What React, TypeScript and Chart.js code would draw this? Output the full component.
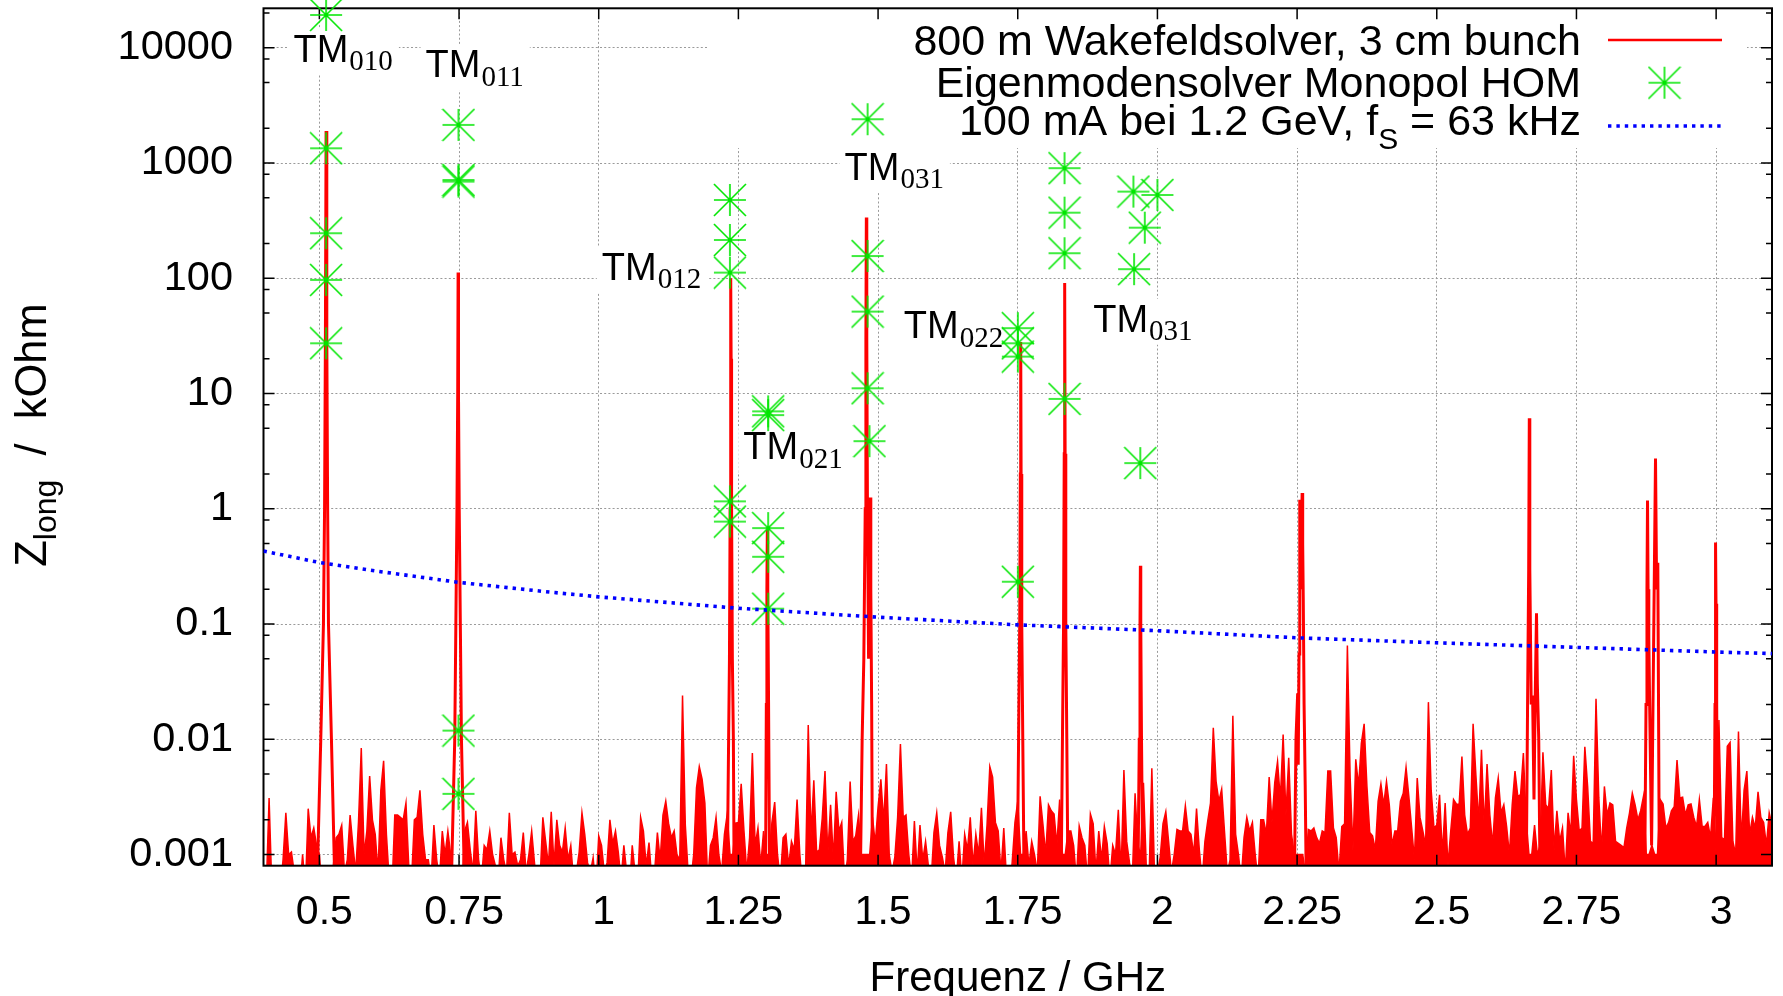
import React, { useEffect, useRef } from 'react';
import { Chart, registerables } from 'chart.js';

Chart.register(...registerables);

const SANS = '"Liberation Sans", Arial, Helvetica, sans-serif';
const SERIF = '"Liberation Serif", "Times New Roman", serif';

// ---------- axes ----------
const X_MIN = 0.4;
const X_MAX = 3.1;
const Y_MIN = 0.0008;
const Y_MAX = 22000;
const X_TICKS = [0.5, 0.75, 1, 1.25, 1.5, 1.75, 2, 2.25, 2.5, 2.75, 3];
const X_TICK_LABELS = ['0.5', '0.75', '1', '1.25', '1.5', '1.75', '2', '2.25', '2.5', '2.75', '3'];
const Y_TICKS = [0.001, 0.01, 0.1, 1, 10, 100, 1000, 10000];
const Y_TICK_LABELS = ['0.001', '0.01', '0.1', '1', '10', '100', '1000', '10000'];
const Y_DECADES = [0.0001, 0.001, 0.01, 0.1, 1, 10, 100, 1000, 10000];
const Y_MINOR_FACTORS = [2, 5, 8];

// ---------- wakefield solver spectrum: noise floor ----------
// sampled every 5 MHz starting at 0.4 GHz, values in Ohm (0.5 = below the axis)
const NOISE_F0_GHZ = 0.4;
const NOISE_STEP_GHZ = 0.005;
const NOISE_OHM = [
  // 0.400 - 0.845
  0.5, 0.5, 3.1, 0.5, 0.5, 0.5, 0.5, 0.9, 2.3, 1.0,
  1.05, 0.7, 0.5, 0.5, 1.0, 0.5, 2.5, 1.4, 1.7, 1.2,
  1.0, 0.5, 0.5, 0.5, 0.5, 0.8, 1.4, 1.5, 1.8, 0.7,
  0.9, 2.2, 1.2, 0.7, 1.9, 8.4, 1.0, 1.6, 4.8, 2.0,
  1.5, 0.7, 3.6, 6.5, 1.5, 0.6, 0.5, 2.2, 2.2, 2.1,
  2.0, 2.8, 0.8, 0.6, 2.0, 2.1, 3.6, 1.5, 0.9, 0.9,
  0.6, 1.8, 0.9, 0.6, 1.6, 1.0, 1.6, 1.0, 0.5, 0.5,
  0.5, 0.5, 1.6, 1.9, 1.1, 0.7, 2.4, 0.9, 0.6, 1.2,
  1.1, 1.6, 1.0, 0.8, 0.6, 1.4, 0.9, 0.7, 2.3, 1.0,
  // 0.850 - 1.295
  1.05, 0.8, 0.9, 1.55, 0.7, 1.0, 1.6, 0.85, 0.5, 0.6,
  2.1, 1.3, 0.8, 2.35, 0.8, 2.0, 1.2, 1.05, 1.7, 0.9,
  1.2, 0.6, 0.7, 1.05, 2.3, 1.5, 0.85, 0.7, 0.94, 0.5,
  1.45, 1.2, 0.7, 0.85, 2.0, 1.25, 1.6, 1.05, 0.6, 1.2,
  0.7, 0.5, 1.2, 0.7, 0.6, 2.1, 1.6, 0.8, 1.27, 0.6,
  0.7, 1.55, 0.9, 2.2, 2.9, 1.87, 1.4, 1.6, 1.0, 0.9,
  24, 1.8, 0.7, 0.6, 1.0, 3.8, 5.8, 4.5, 2.8, 0.6,
  1.2, 1.4, 2.1, 1.0, 0.7, 1.5, 2.25, 1.0, 1.0, 1.87,
  1.9, 4.1, 1.6, 0.7, 1.4, 7.6, 1.2, 1.7, 0.8, 1.6,
  // 1.300 - 1.745
  1.0, 1.0, 1.9, 2.85, 1.0, 0.6, 1.4, 1.5, 0.8, 1.3,
  1.1, 3.0, 1.0, 0.5, 0.6, 13.3, 1.45, 4.4, 1.05, 1.1,
  2.05, 5.3, 1.0, 2.7, 0.9, 3.5, 1.6, 1.9, 0.6, 0.9,
  4.3, 1.3, 1.45, 2.2, 1.0, 1.0, 1.0, 1.0, 2.1, 1.25,
  2.6, 4.5, 1.9, 6.1, 1.0, 0.7, 0.95, 2.1, 9.1, 2.1,
  2.2, 1.0, 0.6, 1.95, 0.7, 1.8, 0.9, 1.3, 0.8, 0.6,
  1.55, 2.3, 1.2, 0.95, 0.7, 1.55, 2.35, 0.95, 0.6, 1.3,
  0.6, 1.5, 1.1, 2.1, 0.8, 1.5, 1.0, 2.55, 0.8, 1.8,
  5.8, 4.7, 1.9, 1.6, 0.7, 1.7, 0.6, 0.5, 0.85, 1.9,
  // 1.750 - 2.195
  2.9, 1.0, 1.0, 1.6, 0.8, 1.3, 1.0, 0.7, 3.2, 1.85,
  1.0, 2.7, 2.4, 2.25, 1.2, 3.0, 1.0, 1.0, 1.6, 1.6,
  1.2, 0.6, 1.77, 1.4, 1.2, 0.6, 2.25, 1.85, 0.7, 1.6,
  0.9, 1.75, 1.25, 0.6, 1.2, 1.0, 2.45, 0.7, 5.4, 1.3,
  0.85, 0.6, 3.4, 1.2, 1.0, 4.2, 0.8, 0.6, 5.6, 0.6,
  0.7, 0.95, 1.85, 2.35, 1.3, 0.7, 1.0, 1.65, 1.6, 1.6,
  2.65, 1.6, 1.5, 1.0, 2.5, 1.1, 0.6, 1.3, 1.95, 2.8,
  12.6, 4.3, 2.9, 3.7, 1.6, 0.7, 0.9, 16, 1.5, 1.0,
  0.6, 1.4, 2.1, 1.6, 1.9, 1.0, 0.6, 2.0, 2.0, 1.5,
  // 2.200 - 2.645
  4.7, 1.9, 4.2, 6.4, 3.0, 11, 2.2, 6.9, 1.5, 1.0,
  1.0, 1.0, 1.0, 0.7, 1.65, 1.6, 1.7, 1.4, 1.25, 1.6,
  1.55, 5.3, 5.3, 1.7, 1.4, 0.7, 1.75, 1.85, 65, 4.6,
  1.1, 6.7, 3.9, 9.2, 13.6, 3.9, 1.55, 1.45, 1.1, 2.9,
  4.1, 2.7, 4.3, 2.7, 1.2, 1.6, 1.6, 2.9, 3.4, 5.7,
  3.2, 1.7, 0.9, 4.6, 2.1, 1.6, 1.2, 21, 3.6, 1.7,
  1.8, 3.3, 1.0, 2.8, 0.8, 1.6, 3.0, 2.75, 2.7, 7.1,
  2.2, 1.5, 1.7, 13.6, 4.9, 1.9, 8.1, 1.7, 6.1, 2.2,
  1.2, 3.1, 4.6, 2.3, 2.7, 1.75, 1.0, 2.7, 5.3, 3.2,
  // 2.650 - 3.100
  3.3, 7.6, 2.0, 1.0, 1.0, 1.8, 1.0, 1.2, 7.7, 2.7,
  2.5, 5.4, 1.1, 2.4, 1.3, 1.7, 0.7, 2.3, 1.5, 7.2,
  3.0, 1.6, 1.7, 8.6, 3.9, 1.3, 1.25, 22.5, 3.1, 1.05,
  3.9, 2.2, 2.8, 2.7, 1.3, 1.25, 1.2, 1.15, 1.7, 2.3,
  3.4, 2.7, 2.0, 2.4, 3.2, 1.0, 1.0, 1.2, 1.0, 1.0,
  3.0, 2.75, 1.7, 1.9, 2.4, 2.6, 6.6, 3.1, 3.15, 2.2,
  2.7, 2.75, 2.1, 1.75, 3.0, 1.75, 1.75, 1.9, 1.4, 3.1,
  1.0, 14.7, 1.4, 1.35, 8.7, 9.4, 1.3, 1.0, 11.7, 1.3,
  3.6, 5.3, 1.5, 2.1, 1.7, 3.5, 2.1, 1.9, 1.2, 2.3, 1.8,
];

// ---------- wakefield solver spectrum: resonance peaks (GHz, kOhm), null = gap ----------
const PEAK_F = [
  0.4957, 0.5025, 0.5073, 0.5093, 0.5108, 0.5120, 0.5133, 0.5148, 0.5163, 0.5216, 0.5279, null,
  0.7360, 0.7423, 0.7443, 0.7463, 0.7476, 0.7483, 0.7490, 0.7503, 0.7523, 0.7543, 0.7600, null,
  1.2298, 1.2325, 1.2340, 1.2352, 1.2360, 1.2365, 1.2370, 1.2378, 1.2392, 1.2410, 1.2425, null,
  1.2985, 1.3000, 1.3010, 1.3018, 1.3026, 1.3040, 1.3060, null,
  1.4680, 1.4715, 1.4745, 1.4770, 1.4782, 1.4790, 1.4798, 1.4810, 1.4830, 1.4850, 1.4862, 1.4870, 1.4885, 1.4900, null,
  1.7490, 1.7515, 1.7535, 1.7546, 1.7553, 1.7560, 1.7572, 1.7590, 1.7615, null,
  1.8275, 1.8300, 1.8320, 1.8332, 1.8340, 1.8348, 1.8360, 1.8378, 1.8400, null,
  1.9650, 1.9675, 1.9688, 1.9695, 1.9702, 1.9715, 1.9740, null,
  2.2450, 2.2480, 2.2510, 2.2520, 2.2535, 2.2545, 2.2550, 2.2560, 2.2580, 2.2590, 2.2600, 2.2610, 2.2625, 2.2645, 2.2665, null,
  2.6600, 2.6625, 2.6645, 2.6656, 2.6665, 2.6690, 2.6715, 2.6740, 2.6760, 2.6785, 2.6800, 2.6825, 2.6850, null,
  2.8720, 2.8745, 2.8762, 2.8772, 2.8782, 2.8795, 2.8810, 2.8845, 2.8870, 2.8895, 2.8915, 2.8935, 2.8956, 2.8965, 2.8985, null,
  2.9960, 2.9980, 2.9987, 2.9992, 2.9998, 3.0010, 3.0030,
];
const PEAK_Z = [
  0.0005, 0.01, 0.1, 1, 30, 1900, 30, 1, 0.1, 0.01, 0.0005, null,
  0.0005, 0.01, 0.1, 1, 10, 112, 10, 1, 0.1, 0.01, 0.0005, null,
  0.0005, 0.01, 0.05, 1, 20, 100, 20, 1, 0.05, 0.01, 0.0005, null,
  0.0005, 0.02, 0.2, 0.66, 0.2, 0.02, 0.0005, null,
  0.0005, 0.01, 0.05, 1, 30, 336, 30, 1, 0.05, 0.2, 1.25, 0.2, 0.02, 0.0005, null,
  0.0005, 0.01, 0.1, 2, 28, 2, 0.1, 0.01, 0.0005, null,
  0.0005, 0.01, 0.1, 3, 91, 3, 0.1, 0.01, 0.0005, null,
  0.0005, 0.01, 0.1, 0.32, 0.1, 0.01, 0.0005, null,
  0.0005, 0.01, 0.025, 0.006, 0.055, 0.3, 1.2, 0.2, 0.6, 1.37, 0.5, 0.17, 0.02, 0.004, 0.0005, null,
  0.0005, 0.02, 0.3, 6.1, 0.3, 0.02, 0.024, 0.003, 0.02, 0.124, 0.03, 0.01, 0.0005, null,
  0.0005, 0.02, 0.2, 1.18, 0.2, 0.077, 0.02, 0.0012, 0.02, 0.3, 2.73, 0.2, 0.34, 0.05, 0.0005, null,
  0.0005, 0.02, 0.15, 0.51, 0.15, 0.02, 0.0005,
];

// ---------- eigenmode solver monopole HOMs (GHz, kOhm) ----------
const HOM_F = [
  0.512, 0.512, 0.512, 0.512, 0.512,
  0.749, 0.749, 0.749, 0.749, 0.749,
  1.2348, 1.2348, 1.2348, 1.2348, 1.2348,
  1.3033, 1.3033, 1.3033, 1.3033, 1.3033,
  1.4812, 1.4812, 1.4812, 1.4812, 1.4846,
  1.7502, 1.7502, 1.7502, 1.7502,
  1.8337, 1.8337, 1.8337, 1.8337,
  1.957, 2.0, 1.9774, 1.9582, 1.9693,
];
const HOM_Z = [
  19250, 1343, 246, 96.8, 27.3,
  2140, 713, 690, 0.0119, 0.00336,
  478, 215, 112, 1.16, 0.774,
  7.0, 6.5, 0.68, 0.383, 0.136,
  2400, 156, 51.4, 11.1, 3.86,
  36.9, 27.3, 20.9, 0.233,
  902, 371, 165, 8.98,
  565, 528, 275, 120, 2.49,
];

// ---------- 100 mA at 1.2 GeV, fs = 63 kHz threshold (GHz, kOhm) ----------
const THRESH_F = [0.4, 0.5, 0.6, 0.75, 0.9, 1.0, 1.25, 1.5, 1.75, 2.0, 2.25, 2.5, 2.75, 3.0, 3.1];
const THRESH_Z = [0.43, 0.342, 0.289, 0.2296, 0.192, 0.172, 0.137, 0.1146, 0.0984, 0.0875, 0.0759, 0.0687, 0.0627, 0.0572, 0.0554];

// ---------- mode labels ----------
const MODE_LABEL_F = [0.4537, 0.690, 1.0055, 1.440, 1.546, 1.885, 1.2587];
const MODE_LABEL_Z = [7574, 5546, 96.7, 713, 30.2, 34.4, 2.69];
const MODE_LABEL_SUB = ['010', '011', '012', '031', '022', '031', '021'];

const LEGEND_LABELS = ['800 m Wakefeldsolver, 3 cm bunch', 'Eigenmodensolver Monopol HOM'];
const LEGEND_LABEL_3 = ['100 mA bei 1.2 GeV, f', 'S', ' = 63 kHz'];
const X_TITLE = 'Frequenz / GHz';
const Y_TITLE = ['Z', 'long', '  /  kOhm'];

const RED = '#ff0000';
const GREEN = '#00e600';
const BLUE = '#0000ff';
const GRID = '#9a9a9a';

function makeStar(): HTMLCanvasElement {
  const c = document.createElement('canvas');
  c.width = 34;
  c.height = 34;
  const g = c.getContext('2d') as CanvasRenderingContext2D;
  g.strokeStyle = GREEN;
  g.lineWidth = 1.6;
  const m = 17;
  const r = 16;
  g.beginPath();
  g.moveTo(m - r, m); g.lineTo(m + r, m);
  g.moveTo(m, m - r); g.lineTo(m, m + r);
  g.moveTo(m - r, m - r); g.lineTo(m + r, m + r);
  g.moveTo(m + r, m - r); g.lineTo(m - r, m + r);
  g.stroke();
  return c;
}

function zeroPadding(s: any) {
  s.paddingTop = 0;
  s.paddingBottom = 0;
  s.paddingLeft = 0;
  s.paddingRight = 0;
}

export default function App() {
  const ref = useRef<HTMLCanvasElement | null>(null);

  useEffect(() => {
    const canvas = ref.current;
    if (!canvas) return;
    const star = makeStar();

    const noiseData = NOISE_OHM.map((ohm, i) => ({ x: NOISE_F0_GHZ + i * NOISE_STEP_GHZ, y: ohm / 1000 }));
    const peakData = PEAK_F.map((f, i) => ({ x: f === null ? (PEAK_F[i - 1] as number) : f, y: PEAK_Z[i] }));
    const homData = HOM_F.map((f, i) => ({ x: f, y: HOM_Z[i] }));
    const threshData = THRESH_F.map((f, i) => ({ x: f, y: THRESH_Z[i] }));

    const LEG = 43;
    const LEG_SUB = 30;

    const gnuplotPlugin = {
      id: 'gnuplotDecor',
      beforeDatasetsDraw(chart: any) {
        const ctx: CanvasRenderingContext2D = chart.ctx;
        const { top } = chart.chartArea;
        const xs = chart.scales.x;
        const ys = chart.scales.y;
        ctx.save();
        // opaque key box
        ctx.fillStyle = '#ffffff';
        ctx.fillRect(707, top + 1, 1747 - 707, 148 - top - 1);
        // legend
        ctx.fillStyle = '#000';
        ctx.textAlign = 'right';
        ctx.textBaseline = 'alphabetic';
        ctx.font = `${LEG}px ${SANS}`;
        ctx.fillText(LEGEND_LABELS[0], 1581, 55);
        ctx.fillText(LEGEND_LABELS[1], 1581, 97);
        // row 3 with subscript
        ctx.textAlign = 'left';
        ctx.font = `${LEG}px ${SANS}`;
        const wa = ctx.measureText(LEGEND_LABEL_3[0]).width;
        const wc = ctx.measureText(LEGEND_LABEL_3[2]).width;
        ctx.font = `${LEG_SUB}px ${SANS}`;
        const wb = ctx.measureText(LEGEND_LABEL_3[1]).width;
        let lx = 1581 - wa - wb - wc;
        ctx.font = `${LEG}px ${SANS}`;
        ctx.fillText(LEGEND_LABEL_3[0], lx, 135);
        lx += wa;
        ctx.font = `${LEG_SUB}px ${SANS}`;
        ctx.fillText(LEGEND_LABEL_3[1], lx, 149);
        lx += wb;
        ctx.font = `${LEG}px ${SANS}`;
        ctx.fillText(LEGEND_LABEL_3[2], lx, 135);
        // samples
        ctx.strokeStyle = RED;
        ctx.lineWidth = 2.5;
        ctx.beginPath();
        ctx.moveTo(1608, 40);
        ctx.lineTo(1722, 40);
        ctx.stroke();
        ctx.drawImage(star, 1664.5 - 17, 82.7 - 17);
        ctx.strokeStyle = BLUE;
        ctx.lineWidth = 3.6;
        ctx.setLineDash([3.4, 5]);
        ctx.beginPath();
        ctx.moveTo(1608, 126);
        ctx.lineTo(1722, 126);
        ctx.stroke();
        ctx.setLineDash([]);

        // mode labels with opaque boxes
        for (let i = 0; i < MODE_LABEL_F.length; i++) {
          const x = xs.getPixelForValue(MODE_LABEL_F[i]);
          const y = ys.getPixelForValue(MODE_LABEL_Z[i]);
          ctx.font = `38px ${SANS}`;
          const w1 = ctx.measureText('TM').width;
          ctx.font = `29px ${SERIF}`;
          const w2 = ctx.measureText(MODE_LABEL_SUB[i]).width;
          ctx.fillStyle = '#ffffff';
          ctx.fillRect(x - 5, y - 33, w1 + w2 + 12, 46);
          ctx.fillStyle = '#000';
          ctx.textAlign = 'left';
          ctx.font = `38px ${SANS}`;
          ctx.fillText('TM', x, y);
          ctx.font = `29px ${SERIF}`;
          ctx.fillText(MODE_LABEL_SUB[i], x + w1 + 1, y + 8.5);
        }
        ctx.restore();
      },
      afterDatasetDraw(chart: any, args: any) {
        if (args.index !== 2) return;
        const ctx: CanvasRenderingContext2D = chart.ctx;
        const { left, right, top, bottom } = chart.chartArea;
        const xs = chart.scales.x;
        const ys = chart.scales.y;
        const MAJOR = 11;
        const MINOR = 6;
        ctx.save();
        ctx.strokeStyle = '#000';
        ctx.lineWidth = 1.5;
        ctx.beginPath();
        for (const v of X_TICKS) {
          const px = xs.getPixelForValue(v);
          ctx.moveTo(px, bottom); ctx.lineTo(px, bottom - MAJOR);
          ctx.moveTo(px, top); ctx.lineTo(px, top + MAJOR);
        }
        for (const v of Y_TICKS) {
          const py = ys.getPixelForValue(v);
          ctx.moveTo(left, py); ctx.lineTo(left + MAJOR, py);
          ctx.moveTo(right, py); ctx.lineTo(right - MAJOR, py);
        }
        for (const d of Y_DECADES) {
          for (const f of Y_MINOR_FACTORS) {
            const v = d * f;
            if (v <= Y_MIN * 1.001 || v >= Y_MAX) continue;
            const py = ys.getPixelForValue(v);
            ctx.moveTo(left, py); ctx.lineTo(left + MINOR, py);
            ctx.moveTo(right, py); ctx.lineTo(right - MINOR, py);
          }
        }
        ctx.stroke();
        ctx.lineWidth = 2;
        ctx.strokeRect(left, top, right - left, bottom - top);
        ctx.restore();
      },
      afterDraw(chart: any) {
        const ctx: CanvasRenderingContext2D = chart.ctx;
        const { left, right, top, bottom } = chart.chartArea;
        ctx.save();
        ctx.fillStyle = '#000';
        ctx.textBaseline = 'alphabetic';
        ctx.textAlign = 'center';
        ctx.font = `42px ${SANS}`;
        ctx.fillText(X_TITLE, (left + right) / 2, 991);
        // rotated y title with subscript
        ctx.translate(46, (top + bottom) / 2 - 2);
        ctx.rotate(-Math.PI / 2);
        ctx.textAlign = 'left';
        ctx.font = `43.5px ${SANS}`;
        const w0 = ctx.measureText(Y_TITLE[0]).width;
        const w2 = ctx.measureText(Y_TITLE[2]).width;
        ctx.font = `32px ${SANS}`;
        const w1 = ctx.measureText(Y_TITLE[1]).width;
        let tx = -(w0 + w1 + w2) / 2;
        ctx.font = `43.5px ${SANS}`;
        ctx.fillText(Y_TITLE[0], tx, 0);
        tx += w0;
        ctx.font = `32px ${SANS}`;
        ctx.fillText(Y_TITLE[1], tx, 10);
        tx += w1;
        ctx.font = `43.5px ${SANS}`;
        ctx.fillText(Y_TITLE[2], tx, 0);
        ctx.restore();
      },
    };

    const chart = new Chart(canvas, {
      type: 'line',
      data: {
        datasets: [
          {
            label: 'threshold',
            data: threshData,
            borderColor: BLUE,
            borderWidth: 3.6,
            borderDash: [3.4, 5],
            borderCapStyle: 'butt',
            pointRadius: 0,
            fill: false,
            tension: 0,
          },
          {
            label: 'HOM',
            data: homData,
            showLine: false,
            pointStyle: star as any,
            pointRadius: 16,
            borderColor: GREEN,
            backgroundColor: GREEN,
            clip: false as any,
          },
          {
            label: 'peaks',
            data: peakData as any,
            borderColor: RED,
            borderWidth: 3,
            pointRadius: 0,
            spanGaps: false,
            fill: false,
            tension: 0,
          },
          {
            label: 'noise',
            data: noiseData,
            borderColor: RED,
            backgroundColor: RED,
            borderWidth: 1.5,
            pointRadius: 0,
            fill: 'start',
            tension: 0,
          },
        ],
      },
      options: {
        responsive: false,
        animation: false,
        events: [],
        layout: { autoPadding: false, padding: { left: 0, right: 11, top: 8.3, bottom: 0 } },
        plugins: {
          legend: { display: false },
          tooltip: { enabled: false },
          title: { display: false },
        },
        scales: {
          x: {
            type: 'linear',
            min: X_MIN,
            max: X_MAX,
            afterBuildTicks: (s: any) => { s.ticks = X_TICKS.map((v) => ({ value: v })); },
            afterFit: (s: any) => { s.height = 130.3; zeroPadding(s); },
            grid: { color: GRID, lineWidth: 1, drawTicks: false },
            border: { display: false, dash: [2, 2.2] },
            ticks: {
              color: '#000',
              font: { family: SANS, size: 41 },
              padding: 22,
              labelOffset: 5,
              maxRotation: 0,
              autoSkip: false,
              callback: (_v: any, i: number) => X_TICK_LABELS[i],
            },
          },
          y: {
            type: 'logarithmic',
            min: Y_MIN,
            max: Y_MAX,
            afterBuildTicks: (s: any) => { s.ticks = Y_TICKS.map((v) => ({ value: v })); },
            afterFit: (s: any) => { s.width = 263.5; zeroPadding(s); },
            grid: { color: GRID, lineWidth: 1, drawTicks: false },
            border: { display: false, dash: [2, 2.2] },
            ticks: {
              color: '#000',
              font: { family: SANS, size: 41.5 },
              padding: 30.5,
              autoSkip: false,
              callback: (_v: any, i: number) => Y_TICK_LABELS[i],
            },
          },
        },
      } as any,
      plugins: [gnuplotPlugin],
    });

    return () => chart.destroy();
  }, []);

  return (
    <div style={{ position: 'fixed', left: 0, top: 0, width: 1783, height: 996, background: '#ffffff' }}>
      <canvas ref={ref} width={1783} height={996} style={{ display: 'block' }} />
    </div>
  );
}
